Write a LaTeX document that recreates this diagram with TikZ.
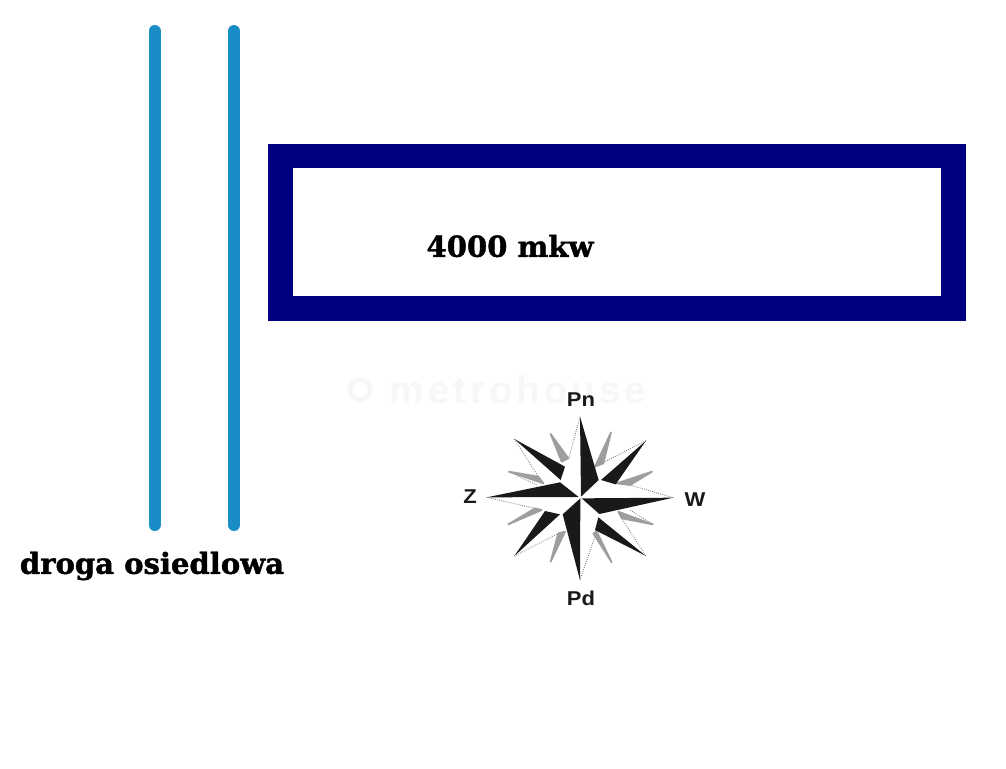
\documentclass[tikz,border=0pt]{standalone}
\usepackage{fontspec}
\newfontfamily\labelfont[FakeBold=1.4]{DejaVu Serif Bold}
\newfontfamily\roselabelfont[FakeStretch=1.1]{Liberation Sans Bold}
\newfontfamily\markfont[LetterSpace=10]{Liberation Sans Bold}
\definecolor{roadblue}{HTML}{1A8DC6}
\definecolor{plotnavy}{HTML}{000080}
\tikzset{
  road/.style={draw=roadblue, line width=9pt, line cap=round},
  plot/.style={draw=plotnavy, line width=18.6pt},
  biglabel/.style={font=\labelfont\fontsize{21.8}{22}\selectfont, text=black, inner sep=0pt},
  roselabel/.style={font=\roselabelfont\fontsize{15}{15}\selectfont, text=black!90, inner sep=0pt},
  marklabel/.style={font=\markfont\fontsize{29}{29}\selectfont, text=black!3, inner sep=0pt},
  blackspike/.style={fill=black!90, draw=none},
  greyspike/.style={fill=black!38, draw=black!38, line width=1.3pt, line join=round},
  dotline/.style={draw=black!55, line width=0.6pt, densely dotted}
}
\begin{document}
\begin{tikzpicture}[x=0.75pt,y=-0.75pt]
  \useasboundingbox (0,0) rectangle (1006,768);
  \fill[white] (0,0) rectangle (1006,768);

  % roads
  \coordinate (roadAtop) at (154.5,31);
  \coordinate (roadAbot) at (154.5,525);
  \coordinate (roadBtop) at (234,31);
  \coordinate (roadBbot) at (234,525);
  \draw[road] (roadAtop) -- (roadAbot);
  \draw[road] (roadBtop) -- (roadBbot);
  \node[biglabel] (droga) at (152,566) {droga osiedlowa};

  % plot
  \draw[plot] (280.5,156) rectangle (953.5,308.5);
  \node[biglabel] (area) at (510,246) {4000 mkw};

  % watermark
  \draw[draw=black!3, line width=4pt] (360,390) circle (10);
  \node[marklabel] (mark) at (518,390) {metrohouse};

  % compass rose, in crop coordinates
  \begin{scope}[xshift=330pt,yshift=-277.5pt,x=0.25pt,y=-0.25pt]
    \draw[dotline] (420,140) -- (385,270);
    \draw[dotline] (618,212) -- (465,290);
    \draw[dotline] (700,383) -- (570,345);
    \draw[dotline] (618,558) -- (545,445);
    \draw[dotline] (420,630) -- (470,485);
    \draw[dotline] (223,558) -- (355,490);
    \draw[dotline] (140,382) -- (285,415);
    \draw[dotline] (223,207) -- (295,320);
    \draw[dotline] (513,187) -- (478,270);
    \draw[dotline] (636,305) -- (560,330);
    \draw[dotline] (638,463) -- (570,420);
    \draw[dotline] (515,577) -- (480,500);
    \draw[dotline] (332,575) -- (350,500);
    \draw[dotline] (205,463) -- (280,430);
    \draw[dotline] (207,305) -- (290,345);
    \draw[dotline] (332,192) -- (365,260);

    \filldraw[greyspike] (513,187) -- (490,280) -- (465,290) -- cycle;
    \filldraw[greyspike] (636,305) -- (570,345) -- (530,340) -- cycle;
    \filldraw[greyspike] (638,463) -- (545,445) -- (535,425) -- cycle;
    \filldraw[greyspike] (515,577) -- (470,485) -- (460,490) -- cycle;
    \filldraw[greyspike] (332,575) -- (375,485) -- (355,490) -- cycle;
    \filldraw[greyspike] (205,463) -- (305,420) -- (285,415) -- cycle;
    \filldraw[greyspike] (207,305) -- (310,340) -- (295,320) -- cycle;
    \filldraw[greyspike] (332,192) -- (385,265) -- (365,275) -- cycle;

    \fill[blackspike] (420,140) -- (476,330) -- (423,380) -- cycle;
    \fill[blackspike] (618,212) -- (527,343) -- (483,330) -- cycle;
    \fill[blackspike] (700,383) -- (478,432) -- (425,385) -- cycle;
    \fill[blackspike] (618,558) -- (465,480) -- (475,442) -- cycle;
    \fill[blackspike] (420,630) -- (368,433) -- (421,385) -- cycle;
    \fill[blackspike] (223,558) -- (315,423) -- (360,433) -- cycle;
    \fill[blackspike] (140,382) -- (360,337) -- (416,381) -- cycle;
    \fill[blackspike] (223,207) -- (375,290) -- (362,330) -- cycle;
  \end{scope}
  \node[roselabel] (north) at (581,400) {Pn};
  \node[roselabel] (south) at (581,598) {Pd};
  \node[roselabel] (west) at (470,497) {Z};
  \node[roselabel] (east) at (695,500) {W};
\end{tikzpicture}
\end{document}
